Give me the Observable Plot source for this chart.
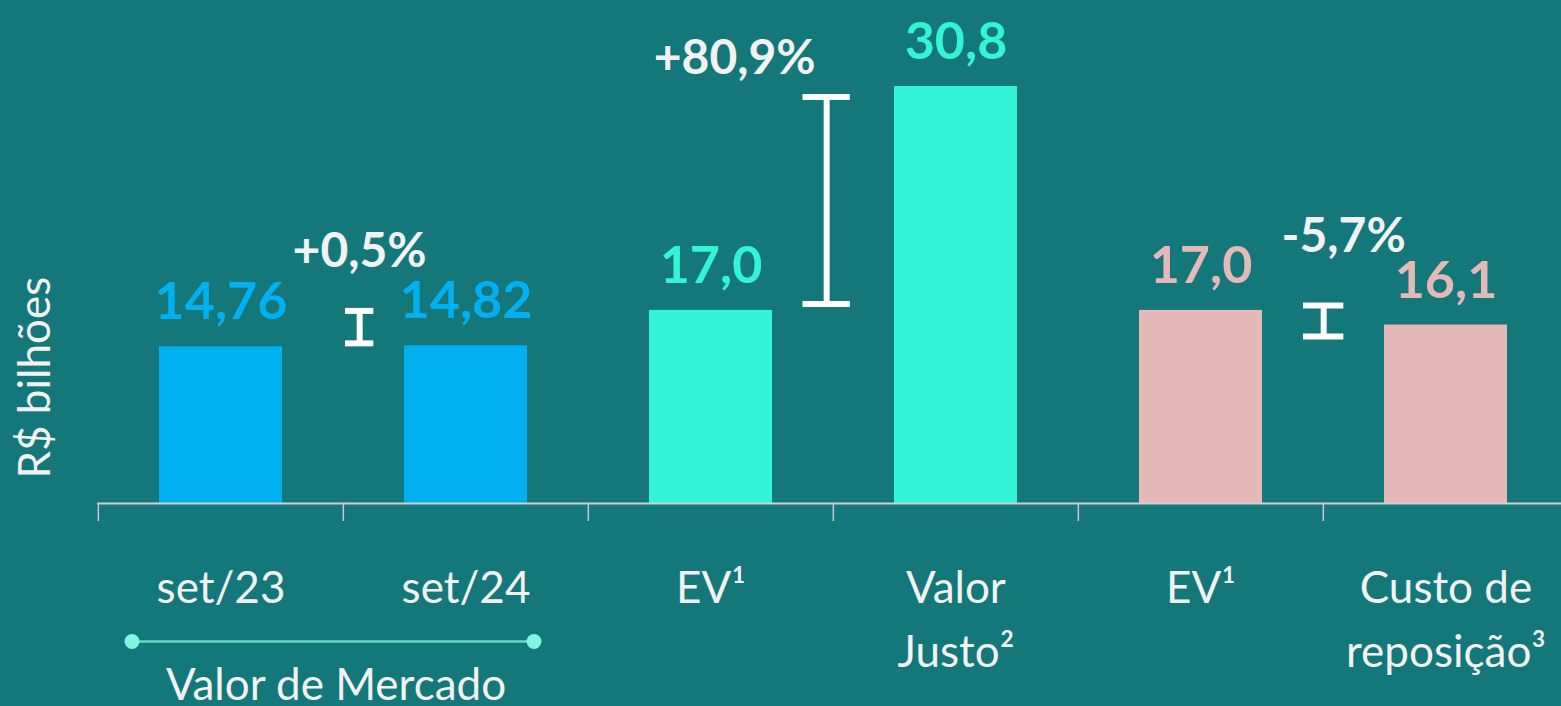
<!DOCTYPE html>
<html><head><meta charset="utf-8">
<script src="https://cdn.jsdelivr.net/npm/d3@7"></script>
<script src="https://cdn.jsdelivr.net/npm/@observablehq/plot@0.6"></script>
<style>
html,body{margin:0;padding:0;background:#14777a;overflow:hidden;width:1561px;height:706px}
svg{display:block}
</style></head><body><div id="chart"></div>
<script>
// ---- data ----
const ids = ["set23", "set24", "ev_a", "justo", "ev_b", "custo"];
const categoryLabels = ["set/23", "set/24", "EV¹", "Valor\nJusto²", "EV¹", "Custo de\nreposição³"];
const values = [14.76, 14.82, 17.0, 30.8, 17.0, 16.1];
const valueLabels = ["14,76", "14,82", "17,0", "30,8", "17,0", "16,1"];
const groups = ["mercado", "mercado", "justo", "justo", "reposicao", "reposicao"];
const changeFrom = ["set23", "ev_a", "ev_b"];
const changeLow = [14.97, 17.4, 15.4];
const changeHigh = [16.97, 30.16, 17.31];
const changeLabels = ["+0,5%", "+80,9%", "-5,7%"];
const yLabel = "R$ bilhões";
const bracketLabel = "Valor de Mercado";
const bracketFrom = "set23";
const bracketTo = "set24";
const yMin = 5.1;

// ---- layout / style ----
const W = 1561, H = 706;
const xRange = [97, 1569];
const step = (xRange[1] - xRange[0]) / ids.length;
const bw = step * 0.5;
const groupDomain = ["mercado", "justo", "reposicao"];
const groupColors = ["#00b0f0", "#33f5d6", "#e4b9b8"];
const light = "#f2f2f2";
const beamDx = [16, -7, 0];
const capW = [28, 47, 40];
const pctDx = [16, -99, 20];
const pctDy = [-59, -38, -69];

const data = ids.map((id, i) => ({id, label: categoryLabels[i], value: values[i], vlabel: valueLabels[i], group: groups[i]}));
const changes = changeFrom.map((from, i) => ({from, low: changeLow[i], high: changeHigh[i], label: changeLabels[i]}));
const bracket = [{from: bracketFrom, to: bracketTo, label: bracketLabel}];

const marks = [
  Plot.barY(data, {x: "id", y1: yMin, y2: "value", fill: "group"}),
  Plot.ruleY([yMin], {stroke: "#d0d0d0", strokeWidth: 2}),
  Plot.axisX({tickSize: 18, tickFormat: () => "", dx: -step / 2, stroke: "#c8c8c8", strokeWidth: 1.5}),
  Plot.text(data, {x: "id", y: "value", text: "vlabel", fill: "group", dy: -44, fontSize: 52, fontWeight: 700}),
  Plot.text(data, {x: "id", y: yMin, text: "label", fill: light, dy: 54, lineAnchor: "top", lineHeight: 1.45, fontSize: 44, fontWeight: 400}),
  Plot.text([yLabel], {frameAnchor: "bottom-left", rotate: -90, textAnchor: "start", dx: -48, dy: -25, fill: light, fontSize: 44, fontWeight: 400}),
  Plot.ruleY(bracket, {x1: "from", x2: "to", y: yMin, dy: 138, insetLeft: -27, insetRight: -8, stroke: "#66d6c6", strokeWidth: 2.5}),
  Plot.dot(bracket, {x: "from", y: yMin, dx: -89, dy: 138, r: 7.5, fill: "#80f5e0", stroke: "none"}),
  Plot.dot(bracket, {x: "to", y: yMin, dx: 68, dy: 138, r: 7.5, fill: "#80f5e0", stroke: "none"}),
  Plot.text(bracket, {x: "to", y: yMin, text: "label", dx: -130, dy: 196, lineAnchor: "bottom", fill: light, fontSize: 44, fontWeight: 400})
];
changes.forEach((c, i) => {
  marks.push(Plot.ruleX([c], {x: "from", y1: "low", y2: "high", dx: step / 2 + beamDx[i], stroke: "#ffffff", strokeWidth: 6}));
  const caps = [{from: c.from, y: c.low}, {from: c.from, y: c.high}];
  marks.push(Plot.tickY(caps, {x: "from", y: "y", dx: step / 2 + beamDx[i], insetLeft: (bw - capW[i]) / 2, insetRight: (bw - capW[i]) / 2, stroke: "#ffffff", strokeWidth: 6}));
  marks.push(Plot.text([c], {x: "from", y: "high", text: "label", dx: step / 2 + pctDx[i], dy: pctDy[i], fill: light, fontSize: 48, fontWeight: 700}));
});

const chart = Plot.plot({
  width: W, height: H,
  marginLeft: 97, marginRight: 0, marginTop: 86, marginBottom: 203,
  style: {fontFamily: "Lato, 'Open Sans', sans-serif", background: "#14777a", overflow: "visible"},
  x: {domain: ids, range: xRange, paddingInner: 0.5, paddingOuter: 0.25, axis: null},
  y: {domain: [yMin, 30.8], axis: null},
  color: {domain: groupDomain, range: groupColors},
  marks
});
document.getElementById("chart").appendChild(chart);
</script></body></html>
